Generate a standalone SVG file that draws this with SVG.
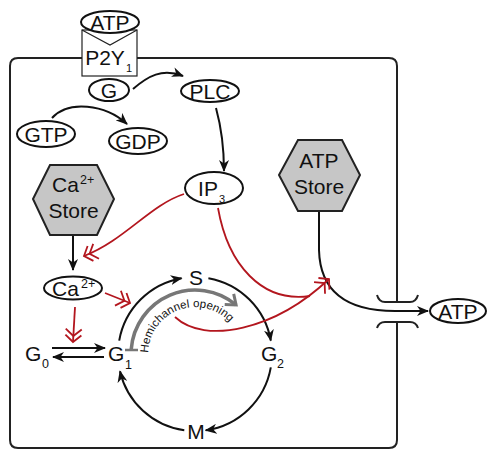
<svg xmlns="http://www.w3.org/2000/svg" width="487" height="450" viewBox="0 0 487 450">
<style>
  .lbl{font-family:"Liberation Sans",Arial,sans-serif;font-size:21px;fill:#111}
  .sub{font-family:"Liberation Sans",Arial,sans-serif;font-size:11px;fill:#111}
  .sup{font-family:"Liberation Sans",Arial,sans-serif;font-size:12.5px;fill:#111}
  .node{fill:#fff;stroke:#111;stroke-width:2}
  .hex{fill:#c6c6c6;stroke:#222;stroke-width:2}
  .con{fill:none;stroke:#111;stroke-width:2}
  .red{fill:none;stroke:#b3161e;stroke-width:1.8}
  .mem{fill:none;stroke:#222;stroke-width:2}
</style>
<defs>
  <marker id="arr" viewBox="0 0 12 10" refX="11" refY="5" markerWidth="12" markerHeight="10" markerUnits="userSpaceOnUse" orient="auto">
    <path d="M0,0 L12,5 L0,10 L3.5,5 z" fill="#111"/>
  </marker>
  <marker id="dbl" viewBox="-16 -10 18 20" refX="0" refY="0" markerWidth="18" markerHeight="20" markerUnits="userSpaceOnUse" orient="auto" overflow="visible">
    <path d="M-7,-8 L0,0 L-7,8 M-13,-8 L-6,0 L-13,8" fill="none" stroke="#b3161e" stroke-width="1.8"/>
  </marker>
  <marker id="garr" viewBox="-12 -10 14 20" refX="0" refY="0" markerWidth="14" markerHeight="20" markerUnits="userSpaceOnUse" orient="auto" overflow="visible">
    <path d="M-9,-7 L0,0 L-9,7" fill="none" stroke="#777" stroke-width="3"/>
  </marker>
  <path id="hemi" d="M148.1,353 A47,47 0 0 1 235.7,330.5"/>
</defs>

<g id="cell">
  <path class="mem" d="M82,58 L18,58 Q10,58 10,66 L10,440 Q10,448 18,448 L389,448 Q397,448 397,440 L397,322"/>
  <path class="mem" d="M397,302 L397,66 Q397,58 389,58 L137,58"/>
</g>

<g id="channel">
  <path class="mem" d="M377,295 Q379,302 385,302 L410,302 Q416,302 418,295"/>
  <path class="mem" d="M377,328 Q379,322 385,322 L410,322 Q416,322 418,328"/>
</g>

<g id="connectors">
  <path class="con" d="M133,89 C148,76 162,68 183,76" marker-end="url(#arr)"/>
  <path class="con" d="M216,108 C222,130 224,150 224,171" marker-end="url(#arr)"/>
  <path class="con" d="M52,118 C68,100 105,104 127,124" marker-end="url(#arr)"/>
  <path class="con" d="M73,235 L73,270" marker-end="url(#arr)"/>
  <path class="con" d="M52,348 L105,348" marker-end="url(#arr)"/>
  <path class="con" d="M104,357 L53,357" marker-end="url(#arr)"/>
  <path class="con" d="M319,211 L319,250 C320,290 345,311 395,311 L428,311" marker-end="url(#arr)"/>
  <path class="con" d="M119.2,340.6 A77,77 0 0 1 181.6,278.2" marker-end="url(#arr)"/>
  <path class="con" d="M208.4,278.2 A77,77 0 0 1 270.8,340.6" marker-end="url(#arr)"/>
  <path class="con" d="M270.8,367.4 A77,77 0 0 1 205.7,430.3" marker-end="url(#arr)"/>
  <path class="con" d="M184.3,430.3 A77,77 0 0 1 120,371.3" marker-end="url(#arr)"/>
  <path d="M131.2,349.5 A64,64 0 0 1 236.1,305" fill="none" stroke="#777" stroke-width="3.5" marker-end="url(#garr)"/>
  <path d="M125,350 L138,350" fill="none" stroke="#777" stroke-width="2.5"/>
  <path class="red" d="M184,194 C150,205 125,240 84,256" marker-end="url(#dbl)"/>
  <path class="red" d="M75,307 L73,342" marker-end="url(#dbl)"/>
  <path class="red" d="M105,293 L130,303" marker-end="url(#dbl)"/>
  <path class="red" d="M218,208 C228,265 262,303 310,296"/>
  <path class="red" d="M175,317 C205,345 275,330 329,279" marker-end="url(#dbl)"/>
</g>

<g id="hemichannel-label">
  <text style="font-family:'Liberation Sans',Arial,sans-serif;font-size:11.5px;fill:#111"><textPath href="#hemi">Hemichannel opening</textPath></text>
</g>

<g id="p2y1">
  <rect x="82" y="30" width="55" height="46" fill="#fff" stroke="#222" stroke-width="1.2"/>
  <path d="M82,30 L110,45 L137,30" fill="none" stroke="#222" stroke-width="1.2"/>
  <text class="lbl" x="105" y="65" text-anchor="middle">P2Y</text>
  <text class="sub" x="126" y="72">1</text>
</g>
<g id="atp-ext-top">
  <ellipse class="node" cx="110" cy="22" rx="29" ry="11"/>
  <text class="lbl" x="110" y="29.5" text-anchor="middle">ATP</text>
</g>
<g id="g-protein">
  <ellipse class="node" cx="109" cy="90" rx="20" ry="11"/>
  <text class="lbl" x="109" y="97.5" text-anchor="middle">G</text>
</g>
<g id="plc">
  <ellipse class="node" cx="210" cy="91" rx="29" ry="11"/>
  <text class="lbl" x="210" y="98.5" text-anchor="middle">PLC</text>
</g>
<g id="gtp">
  <ellipse class="node" cx="46" cy="134" rx="29" ry="13"/>
  <text class="lbl" x="46" y="141.5" text-anchor="middle">GTP</text>
</g>
<g id="gdp">
  <ellipse class="node" cx="138" cy="141" rx="29" ry="13"/>
  <text class="lbl" x="138" y="148.5" text-anchor="middle">GDP</text>
</g>
<g id="ip3">
  <ellipse class="node" cx="214" cy="188" rx="29" ry="16"/>
  <text class="lbl" x="208" y="195.5" text-anchor="middle">IP</text>
  <text class="sub" x="219" y="203">3</text>
</g>
<g id="ca-store">
  <polygon class="hex" points="33,199 50,165 97,165 114,199 97,235 50,235"/>
  <text class="lbl" x="52" y="192">Ca</text>
  <text class="sup" x="80" y="184">2+</text>
  <text class="lbl" x="73.5" y="218" text-anchor="middle">Store</text>
</g>
<g id="ca">
  <ellipse class="node" cx="73" cy="288" rx="29" ry="11.5"/>
  <text class="lbl" x="52" y="296">Ca</text>
  <text class="sup" x="81" y="288">2+</text>
</g>
<g id="atp-store">
  <polygon class="hex" points="279,175 298,140 342,140 360,175 342,211 298,211"/>
  <text class="lbl" x="319" y="168" text-anchor="middle">ATP</text>
  <text class="lbl" x="319" y="194" text-anchor="middle">Store</text>
</g>
<g id="atp-out">
  <ellipse class="node" cx="458" cy="311" rx="28" ry="12"/>
  <text class="lbl" x="458" y="318.5" text-anchor="middle">ATP</text>
</g>
<g id="g0">
  <text class="lbl" x="25" y="361">G</text>
  <text class="sup" x="42" y="368">0</text>
</g>
<g id="g1">
  <text class="lbl" x="108" y="361">G</text>
  <text class="sup" x="125" y="369">1</text>
</g>
<g id="s">
  <text class="lbl" x="196" y="284.5" text-anchor="middle">S</text>
</g>
<g id="g2">
  <text class="lbl" x="261" y="361">G</text>
  <text class="sup" x="277" y="368">2</text>
</g>
<g id="m">
  <text class="lbl" x="196" y="438.5" text-anchor="middle">M</text>
</g>
</svg>
